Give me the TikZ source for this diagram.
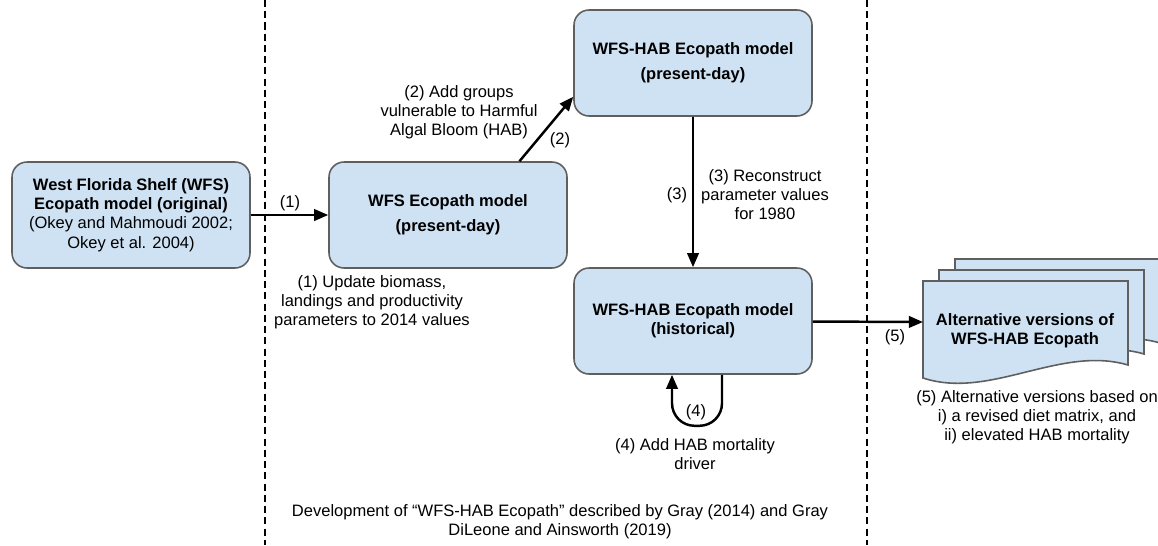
\documentclass[tikz,border=0pt]{standalone}
\usepackage{fontspec}
\setmainfont{Liberation Sans}
\usetikzlibrary{arrows.meta}
\definecolor{boxblue}{RGB}{207,226,243}
\definecolor{boxline}{RGB}{95,95,95}

\begin{document}
\begin{tikzpicture}[x=0.02cm, y=-0.02cm,
    model/.style={draw=boxline, line width=0.9pt, fill=boxblue, rounded corners=0.3cm,
      minimum width=4.76cm, minimum height=2.12cm, align=center,
      font=\fontsize{9.4}{11}\selectfont},
    note/.style={align=center, inner sep=0pt, font=\fontsize{9.4}{10.8}\selectfont},
    arrow/.style={line width=1.4pt, -{Triangle[length=8pt,width=6.5pt]}},
    divider/.style={line width=1pt, dash pattern=on 4pt off 2.4pt}]
        \useasboundingbox (0,0) rectangle (1158,545);
        \clip (0,0) rectangle (1158,545);

        \draw[divider] (265,0) -- (265,545);
        \draw[divider] (867,0) -- (867,545);

        \node[model] (orig) at (131,215) {\textbf{West Florida Shelf (WFS)}\\\textbf{Ecopath model (original)}\\(Okey and Mahmoudi 2002;\\Okey et al. 2004)};
        \node[model] (wfs) at (448,215) {\bfseries WFS Ecopath model\\[3pt]\bfseries (present-day)};
        \node[model] (habnow) at (693,63) {\bfseries WFS-HAB Ecopath model\\[3pt]\bfseries (present-day)};
        \node[model] (habpast) at (693,321) {\bfseries WFS-HAB Ecopath model\\\bfseries (historical)};

        \foreach \dx/\dy in {32/-22, 16/-11, 0/0}
          \draw[draw=boxline, line width=0.9pt, fill=boxblue, shift={(\dx,\dy)}]
            (923,281) -- (1128,281) -- (1128,365)
            .. controls (1060,345) and (990,400) .. (923,378) -- cycle;
        \node[note, font=\fontsize{9.4}{11}\selectfont\bfseries] (alt) at (1025,331) {Alternative versions of\\WFS-HAB Ecopath};
        \coordinate (altin) at (923,322);

        \draw[arrow] (orig) -- (wfs);
        \draw[arrow] ([xshift=1.43cm]wfs.north) -- ([yshift=0.4cm]habnow.south west);
        \draw[arrow] (habnow) -- (habpast);
        \draw[arrow, rounded corners=0.45cm] ([xshift=0.58cm]habpast.south) -- ++(0,51) -| ([xshift=-0.42cm]habpast.south);
        \draw[arrow] (habpast) -- (altin);

        \node[note] (l1) at (290,203) {(1)};
        \node[note] (l2) at (560,140) {(2)};
        \node[note] (l3) at (677,195) {(3)};
        \node[note] (l4) at (696,412) {(4)};
        \node[note] (l5) at (895,337) {(5)};

        \node[note] (n1) at (372,302) {(1) Update biomass,\\landings and productivity\\parameters to 2014 values};
        \node[note] (n2) at (459,112) {(2) Add groups\\vulnerable to Harmful\\Algal Bloom (HAB)};
        \node[note] (n3) at (765,195) {(3) Reconstruct\\parameter values\\for 1980};
        \node[note] (n4) at (695,454) {(4) Add HAB mortality\\driver};
        \node[note] (n5) at (1037,417) {(5) Alternative versions based on\\i) a revised diet matrix, and\\ii) elevated HAB mortality};
        \node[note] (dev) at (560,522) {Development of “WFS-HAB Ecopath” described by Gray (2014) and Gray\\DiLeone and Ainsworth (2019)};
      \end{tikzpicture}
\end{document}
